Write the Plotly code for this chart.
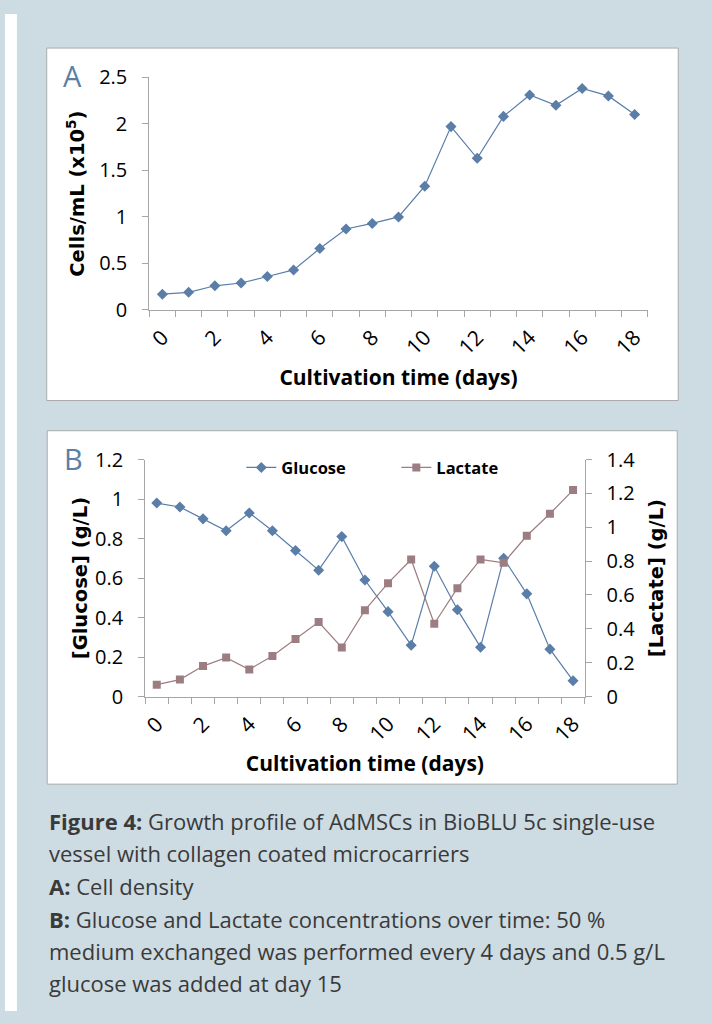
import plotly.graph_objects as go

# ---------------- data ----------------
days = list(range(19))
cells = [0.17, 0.19, 0.26, 0.29, 0.36, 0.43, 0.66, 0.87, 0.93, 1.00,
         1.33, 1.97, 1.63, 2.08, 2.31, 2.20, 2.38, 2.30, 2.10]
glucose = [0.98, 0.96, 0.90, 0.84, 0.93, 0.84, 0.74, 0.64, 0.81, 0.59,
           0.43, 0.26, 0.66, 0.44, 0.25, 0.70, 0.52, 0.24, 0.08]
lactate = [0.07, 0.10, 0.18, 0.23, 0.16, 0.24, 0.34, 0.44, 0.29, 0.51,
           0.67, 0.81, 0.43, 0.64, 0.81, 0.79, 0.95, 1.08, 1.22]
xtick_vals = [0, 2, 4, 6, 8, 10, 12, 14, 16, 18]
xtick_text = [str(v) for v in xtick_vals]

caption_lines = [
    "<b>Figure 4:</b> Growth profile of AdMSCs in BioBLU 5c single-use",
    "vessel with collagen coated microcarriers",
    "<b>A:</b> Cell density",
    "<b>B:</b> Glucose and Lactate concentrations over time: 50 %",
    "medium exchanged was performed every 4 days and 0.5 g/L",
    "glucose was added at day 15",
]

# ---------------- style ----------------
W, H = 712, 1024
BG = "#cddbe3"
BLUE = "#5a7ea8"
MAUVE = "#9c7e82"
AXIS = "#a6a6a6"
TICKFONT = dict(family="Open Sans", size=20, color="#000000")
XTICKFONT = dict(family="Open Sans", size=21, color="#000000")
TITLEFONT = dict(family="Open Sans", size=21, color="#000000", weight="bold")
YTITLEFONT = dict(family="DejaVu Sans", size=19.5, color="#000000", weight="bold")


def px_x(v):
    return v / W


def px_y(v):
    return 1 - v / H


fig = go.Figure()

fig.add_trace(go.Scatter(
    x=days, y=cells, mode="lines+markers", name="Cells",
    line=dict(color=BLUE, width=1.2),
    marker=dict(symbol="diamond", size=8.5, color=BLUE),
    xaxis="x", yaxis="y", showlegend=False))

fig.add_trace(go.Scatter(
    x=days, y=glucose, mode="lines+markers", name="Glucose",
    line=dict(color=BLUE, width=1.2),
    marker=dict(symbol="diamond", size=8.5, color=BLUE),
    xaxis="x2", yaxis="y2"))

fig.add_trace(go.Scatter(
    x=days, y=lactate, mode="lines+markers", name="Lactate",
    line=dict(color=MAUVE, width=1.2),
    marker=dict(symbol="square", size=8, color=MAUVE),
    xaxis="x2", yaxis="y3"))

xcommon = dict(
    range=[-0.5, 18.5], tickmode="array", tickvals=xtick_vals, ticktext=xtick_text,
    tickangle=-45, ticks="", showline=True, linecolor=AXIS, linewidth=1,
    showgrid=False, zeroline=False, tickfont=XTICKFONT, ticklabelstandoff=6,
    minor=dict(tick0=-0.5, dtick=1, ticks="outside", ticklen=6, tickcolor=AXIS, tickwidth=1),
    fixedrange=True,
)
ycommon = dict(
    ticks="outside", ticklen=6, tickcolor=AXIS, showline=True, linecolor=AXIS,
    linewidth=1, showgrid=False, zeroline=False, tickfont=TICKFONT,
    ticklabelstandoff=11, fixedrange=True,
)

fig.update_layout(
    width=W, height=H,
    margin=dict(l=0, r=0, t=0, b=0),
    paper_bgcolor=BG, plot_bgcolor="rgba(0,0,0,0)",
    xaxis=dict(**xcommon, domain=[px_x(145.3), px_x(647.3)], anchor="y",
               title=dict(text="Cultivation time (days)", font=TITLEFONT, standoff=10)),
    yaxis=dict(**ycommon, domain=[px_y(304), px_y(65)], anchor="x",
               range=[0, 2.5], dtick=0.5,
               title=dict(text="Cells/mL (x10<sup>5</sup>)", font=YTITLEFONT, standoff=9)),
    xaxis2=dict(**xcommon, domain=[px_x(141.2), px_x(583.7)], anchor="y2",
                title=dict(text="Cultivation time (days)", font=TITLEFONT, standoff=10)),
    yaxis2=dict(**ycommon, domain=[px_y(701), px_y(457.7)], anchor="x2",
                range=[0, 1.2], dtick=0.2,
                title=dict(text="[Glucose] (g/L)", font=YTITLEFONT, standoff=2)),
    yaxis3=dict(**ycommon, overlaying="y2", side="right", anchor="x2",
                range=[0, 1.4], dtick=0.2,
                title=dict(text="[Lactate] (g/L)", font=YTITLEFONT, standoff=15)),
    legend=dict(orientation="h", x=px_x(238), xanchor="left", y=px_y(466), yanchor="middle",
                bgcolor="rgba(0,0,0,0)", font=dict(family="Open Sans", size=16.5, color="#000",
                                                   weight="bold"),
                entrywidth=110, entrywidthmode="pixels", itemclick=False, itemdoubleclick=False),
    showlegend=True,
)

# background shapes: left white strip and panel boxes
shapes = [
    dict(type="rect", xref="paper", yref="paper", x0=0, x1=px_x(12), y0=0, y1=1,
         fillcolor="#ffffff", line=dict(width=0), layer="below"),
    dict(type="rect", xref="paper", yref="paper", x0=px_x(42), x1=px_x(678), y0=px_y(397), y1=px_y(35),
         fillcolor="#ffffff", line=dict(color="#aaaaaa", width=1), layer="below"),
    dict(type="rect", xref="paper", yref="paper", x0=px_x(42.5), x1=px_x(677), y0=px_y(791), y1=px_y(428),
         fillcolor="#ffffff", line=dict(color="#aaaaaa", width=1), layer="below"),
]
fig.update_layout(shapes=shapes)

annotations = [
    dict(text="A", x=px_x(56), y=px_y(63), xref="paper", yref="paper", xanchor="left",
         yanchor="middle", showarrow=False, font=dict(family="Open Sans", size=29, color="#5b7fa6")),
    dict(text="B", x=px_x(57), y=px_y(456.5), xref="paper", yref="paper", xanchor="left",
         yanchor="middle", showarrow=False, font=dict(family="Open Sans", size=29, color="#5b7fa6")),
]
cap_y = [829, 862, 896, 929, 962, 995]
for line, yy in zip(caption_lines, cap_y):
    annotations.append(dict(text=line, x=px_x(42), y=px_y(yy), xref="paper", yref="paper",
                            xanchor="left", yanchor="middle", showarrow=False, align="left",
                            font=dict(family="Open Sans", size=22, color="#3a3a3a")))
fig.update_layout(annotations=annotations)

fig.write_html("out.html")
